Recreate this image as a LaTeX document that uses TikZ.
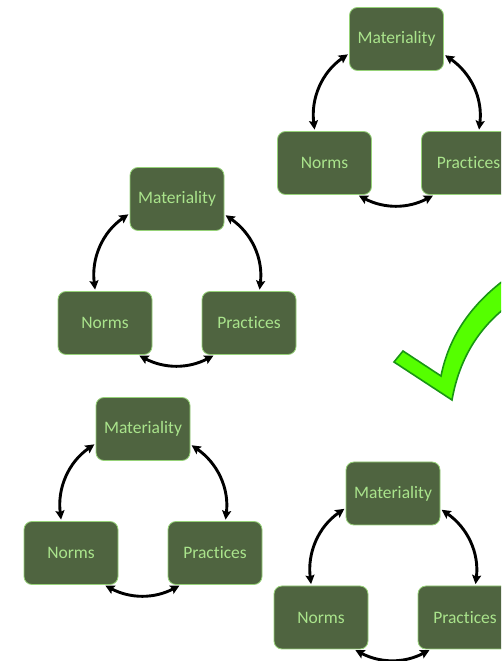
\documentclass[tikz,border=0pt]{standalone}
\usepackage{fontspec}
\setmainfont{Carlito}[Ligatures={NoCommon}]
\usetikzlibrary{arrows.meta}

\definecolor{boxfill}{RGB}{79,100,64}
\definecolor{boxline}{RGB}{150,210,120}
\definecolor{boxtext}{RGB}{170,228,140}
\definecolor{tickfill}{RGB}{85,255,0}
\definecolor{tickline}{RGB}{25,150,20}

\tikzset{
  cyclebox/.style={draw=boxline, fill=boxfill, line width=0.8pt,
    rounded corners=8pt, minimum width=94pt, minimum height=63pt,
    inner sep=0pt, text=boxtext, font=\fontsize{17.5}{21}\selectfont},
  link/.style={line width=2.9pt,
    {Stealth[length=9pt,width=9pt,inset=1.5pt]}-{Stealth[length=9pt,width=9pt,inset=1.5pt]},
    shorten <=1.5pt, shorten >=1.5pt},
  tick/.style={fill=tickfill, draw=tickline, line width=1.6pt, line join=miter}
}

% One Materiality / Norms / Practices cycle, placed by its top box
\newcommand\cyclegroup[3]{%
  \begin{scope}[shift={(#2,#3)}]
    \node[cyclebox] (m#1) at (0,0) {Materiality};
    \node[cyclebox] (n#1) at (-72,-124) {Norms};
    \node[cyclebox] (p#1) at (72,-124) {Practices};
  \end{scope}
  \draw[link] (m#1.197.4) to[out=214.7, in=97] (n#1.107.4);
  \draw[link] (n#1.316.8) to[out=332.3, in=207.7] (p#1.223.2);
  \draw[link] (p#1.72.6) to[out=83, in=325.3] (m#1.342.6);
}

\begin{document}
\begin{tikzpicture}[x=1pt, y=1pt]
  \useasboundingbox (0,0) rectangle (501,661);
  \fill[white] (0,0) rectangle (501,661);
  \clip (0,0) rectangle (501,661);

  \cyclegroup{1}{396.5}{622}
  \cyclegroup{2}{177}{462}
  \cyclegroup{3}{143}{232}
  \cyclegroup{4}{393}{167.5}

  % check mark
  \path[tick] (394,299) -- (403,310) -- (441,285)
    .. controls (450,330) and (478,368) .. (530,398)
    -- (535,372)
    .. controls (495,352) and (462,318) .. (452,261) -- cycle;
\end{tikzpicture}
\end{document}
